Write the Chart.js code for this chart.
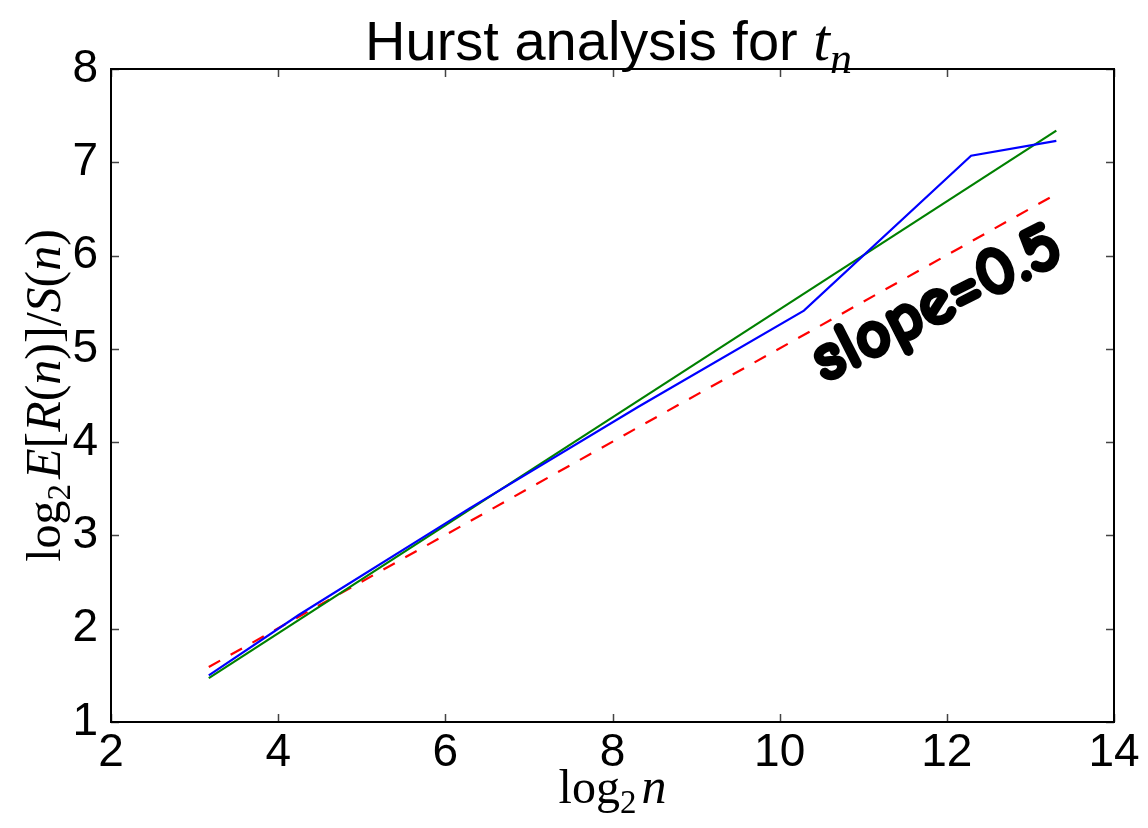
<!DOCTYPE html>
<html>
<head>
<meta charset="utf-8">
<script src="https://cdn.jsdelivr.net/npm/chart.js@4/dist/chart.umd.min.js"></script>
<style>
  html, body { margin: 0; padding: 0; background: #ffffff; }
  canvas { display: block; }
</style>
</head>
<body>
<canvas id="c" width="1148" height="828"></canvas>
<script>
// ---- data ----
const xData = [3.17, 4.25, 6.29, 8.31, 10.29, 12.29, 13.31];
const yData = [1.50, 2.15, 3.29, 4.38, 5.41, 7.07, 7.23];
const xFit = [3.17, 13.31];
const yFit = [1.47, 7.34];
const xRef = [3.17, 13.31];
const yRef = [1.59, 6.66];
const xTicks = [2, 4, 6, 8, 10, 12, 14];
const yTicks = [1, 2, 3, 4, 5, 6, 7, 8];
const titleMain = "Hurst analysis for ";
const slopeLabel = "slope=0.5";
const slopePos = { x: 11.88, y: 5.48 };

const pts = (xs, ys) => xs.map((x, i) => ({ x: x, y: ys[i] }));

const SANS = '"Liberation Sans", Arial, sans-serif';
const SERIF = '"Liberation Serif", "DejaVu Serif", serif';

function drawRich(ctx, segs, cx, cy) {
  let total = 0;
  segs.forEach(s => { ctx.font = s.font; s.w = ctx.measureText(s.text).width; total += s.w; });
  let x = cx - total / 2;
  ctx.textAlign = 'left';
  ctx.textBaseline = 'alphabetic';
  segs.forEach(s => { ctx.font = s.font; ctx.fillText(s.text, x, cy + (s.dy || 0)); x += s.w; });
}

const decor = {
  id: 'decor',
  afterDatasetsDraw(chart) {
    const ctx = chart.ctx;
    const a = chart.chartArea;
    const xs = chart.scales.x, ys = chart.scales.y;
    ctx.save();
    // inward tick marks on all sides
    ctx.strokeStyle = '#444';
    ctx.lineWidth = 1.5;
    ctx.beginPath();
    xTicks.forEach(v => {
      const px = Math.round(xs.getPixelForValue(v)) + 0.5;
      ctx.moveTo(px, a.bottom); ctx.lineTo(px, a.bottom - 8);
      ctx.moveTo(px, a.top); ctx.lineTo(px, a.top + 8);
    });
    yTicks.forEach(v => {
      const py = Math.round(ys.getPixelForValue(v)) + 0.5;
      ctx.moveTo(a.left, py); ctx.lineTo(a.left + 8, py);
      ctx.moveTo(a.right, py); ctx.lineTo(a.right - 8, py);
    });
    ctx.stroke();
    // frame
    ctx.strokeStyle = '#000';
    ctx.lineWidth = 2;
    ctx.strokeRect(a.left, a.top, a.right - a.left, a.bottom - a.top);

    // slope annotation
    const tx = xs.getPixelForValue(slopePos.x), ty = ys.getPixelForValue(slopePos.y);
    ctx.translate(tx, ty);
    ctx.rotate(-27 * Math.PI / 180);
    ctx.fillStyle = '#000';
    ctx.strokeStyle = '#000';
    ctx.lineWidth = 3.5;
    ctx.lineJoin = 'round';
    ctx.font = 'bold 69px "Comic Sans MS", "Comic Neue", "DejaVu Sans", sans-serif';
    ctx.textAlign = 'center';
    ctx.textBaseline = 'middle';
    ctx.strokeText(slopeLabel, 0, 0);
    ctx.fillText(slopeLabel, 0, 0);
    ctx.restore();

    // title
    ctx.save();
    ctx.fillStyle = '#000';
    const cx = (a.left + a.right) / 2;
    drawRich(ctx, [
      { text: titleMain, font: '56px ' + SANS },
      { text: 't', font: 'italic 60px ' + SERIF },
      { text: 'n', font: 'italic 44px ' + SERIF, dy: 13 }
    ], cx - 4, 60);
    // x label
    drawRich(ctx, [
      { text: 'log', font: '48px ' + SERIF },
      { text: '2', font: '33px ' + SERIF, dy: 10 },
      { text: ' ', font: '20px ' + SERIF },
      { text: 'n', font: 'italic 50px ' + SERIF }
    ], cx, 803);
    // y label
    ctx.translate(60, (a.top + a.bottom) / 2);
    ctx.rotate(-Math.PI / 2);
    drawRich(ctx, [
      { text: 'log', font: '48px ' + SERIF },
      { text: '2', font: '33px ' + SERIF, dy: 10 },
      { text: ' ', font: '20px ' + SERIF },
      { text: 'E', font: 'italic 50px ' + SERIF },
      { text: '[', font: '50px ' + SERIF },
      { text: 'R', font: 'italic 50px ' + SERIF },
      { text: '(', font: '50px ' + SERIF },
      { text: 'n', font: 'italic 50px ' + SERIF },
      { text: ')]/', font: '50px ' + SERIF },
      { text: 'S', font: 'italic 50px ' + SERIF },
      { text: '(', font: '50px ' + SERIF },
      { text: 'n', font: 'italic 50px ' + SERIF },
      { text: ')', font: '50px ' + SERIF }
    ], 0, 0);
    ctx.restore();
  }
};

new Chart(document.getElementById('c'), {
  type: 'line',
  data: {
    datasets: [
      { data: pts(xData, yData), borderColor: '#0000ff', borderWidth: 2.2, order: 1 },
      { data: pts(xFit, yFit), borderColor: '#008000', borderWidth: 2.2, order: 2 },
      { data: pts(xRef, yRef), borderColor: '#ff0000', borderWidth: 2.2, borderDash: [13, 12], order: 3 }
    ]
  },
  options: {
    responsive: false,
    animation: false,
    devicePixelRatio: 1,
    layout: { padding: { top: 69, right: 34, left: 0, bottom: 0 } },
    elements: { point: { radius: 0 }, line: { tension: 0, fill: false } },
    plugins: { legend: { display: false }, tooltip: { enabled: false }, title: { display: false } },
    scales: {
      x: {
        type: 'linear', min: 2, max: 14,
        afterBuildTicks(s) { s.ticks = xTicks.map(v => ({ value: v })); },
        afterFit(s) { s.height = 106; },
        grid: { display: false }, border: { display: false },
        ticks: { color: '#000', padding: -4, maxRotation: 0, font: { size: 46, family: SANS } }
      },
      y: {
        type: 'linear', min: 1, max: 8,
        afterBuildTicks(s) { s.ticks = yTicks.map(v => ({ value: v })); },
        afterFit(s) { s.width = 111; },
        grid: { display: false }, border: { display: false },
        ticks: { color: '#000', padding: 5, font: { size: 46, family: SANS } }
      }
    }
  },
  plugins: [decor]
});
</script>
</body>
</html>
